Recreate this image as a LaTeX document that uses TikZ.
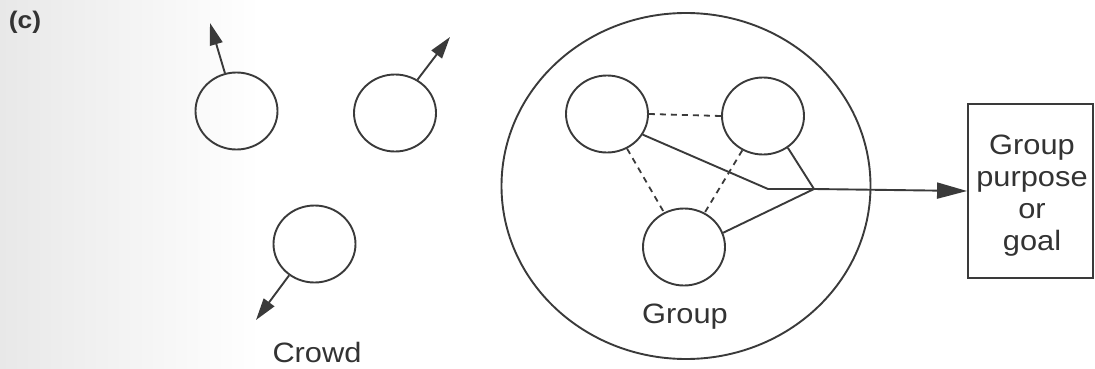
\documentclass[tikz,border=0pt]{standalone}
\usepackage{fontspec}
\setmainfont{Liberation Sans}[FakeStretch=1.1]
\usetikzlibrary{arrows.meta,shapes.geometric}
\definecolor{ink}{HTML}{3A3A3A}
\definecolor{txt}{HTML}{333333}
\begin{document}
\begin{tikzpicture}[x=1pt,y=-1pt,
  person/.style={draw=ink, line width=1.9pt, ellipse, inner sep=0pt, minimum width=82pt, minimum height=77pt},
  move/.style={draw=ink, line width=1.9pt, -{Triangle[length=22pt,width=13pt]}},
  tie/.style={draw=ink, line width=1.8pt, dash pattern=on 6pt off 5pt},
  pull/.style={draw=ink, line width=1.9pt},
  lbl/.style={text=txt, font=\fontsize{28}{32}\selectfont, inner sep=0pt}]
\useasboundingbox (0,0) rectangle (1095,369);
\shade[left color=black!9, right color=white, draw=none] (0,0) rectangle (260,369);
% label
\node[text=txt, font=\fontsize{24}{28}\selectfont\bfseries, inner sep=0pt] (lab) at (25,22) {(c)};
% crowd
\node[person] (c1) at (236.5,111) {};
\node[person] (c2) at (395,113) {};
\node[person] (c3) at (314.5,244) {};
\coordinate (t1) at (210,23);
\coordinate (t2) at (450,37);
\coordinate (t3) at (256,320);
\draw[move] (c1.107) -- (t1);
\draw[move] (c2.56) -- (t2);
\draw[move] (c3.-129) -- (t3);
\node[lbl, anchor=base] (crowd) at (317,362) {Crowd};
% group
\node[draw=ink, line width=1.9pt, ellipse, inner sep=0pt, minimum width=369pt, minimum height=346pt] (grp) at (686,186) {};
\node[person] (A) at (607,114) {};
\node[person] (B) at (763,116) {};
\node[person] (C) at (684,247) {};
\draw[tie] (A.east) -- (B.west);
\draw[tie] (A) -- (C);
\draw[tie] (B) -- (C);
\coordinate (bend) at (768,189);
\coordinate (J) at (814,189);
\draw[pull] (A.-30) -- (bend) -- (J);
\draw[pull] (B.-52) -- (J);
\draw[pull] (C.20) -- (J);
\node[lbl, anchor=base] (grouplbl) at (685,323) {Group};
% goal box
\node[draw=ink, line width=1.9pt, minimum width=125pt, minimum height=174pt, inner sep=0pt] (goal) at (1030.5,191) {};
\node[lbl, align=center] (goaltext) at (1032,196) {Group\\purpose\\or\\goal};
\draw[pull, -{Triangle[length=30pt,width=16pt]}] (J) -- (goal.west);
\end{tikzpicture}
\end{document}
